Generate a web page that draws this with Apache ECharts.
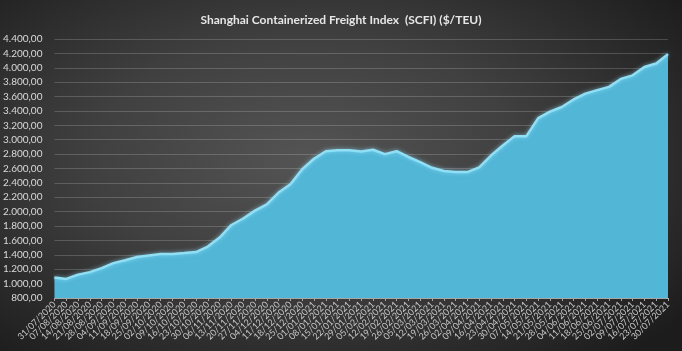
<!DOCTYPE html>
<html>
<head>
<meta charset="utf-8">
<script src="https://cdn.jsdelivr.net/npm/echarts@6/dist/echarts.min.js"></script>
<style>
  html, body { margin: 0; padding: 0; }
  #chart {
    width: 682px;
    height: 351px;
    background: radial-gradient(ellipse 70% 75% at 45% 45%, #545454 0%, #404040 45%, #262626 85%, #1c1c1c 100%);
  }
</style>
</head>
<body>
<div id="chart"></div>
<script>
// SCFI weekly readings, 31/07/2020 .. 30/07/2021
const weeks = [
  "31/07/2020", "07/08/2020", "14/08/2020", "21/08/2020", "28/08/2020",
  "04/09/2020", "11/09/2020", "18/09/2020", "25/09/2020",
  "02/10/2020", "09/10/2020", "16/10/2020", "23/10/2020", "30/10/2020",
  "06/11/2020", "13/11/2020", "20/11/2020", "27/11/2020",
  "04/12/2020", "11/12/2020", "18/12/2020", "25/12/2020",
  "01/01/2021", "08/01/2021", "15/01/2021", "22/01/2021", "29/01/2021",
  "05/02/2021", "12/02/2021", "19/02/2021", "26/02/2021",
  "05/03/2021", "12/03/2021", "19/03/2021", "26/03/2021",
  "02/04/2021", "09/04/2021", "16/04/2021", "23/04/2021", "30/04/2021",
  "07/05/2021", "14/05/2021", "21/05/2021", "28/05/2021",
  "04/06/2021", "11/06/2021", "18/06/2021", "25/06/2021",
  "02/07/2021", "09/07/2021", "16/07/2021", "23/07/2021", "30/07/2021"
]

const scfi = [
  1085, 1065, 1125, 1160, 1215,
  1285, 1325, 1370, 1390,
  1410, 1412, 1424, 1438, 1515,
  1640, 1815, 1905, 2015,
  2100, 2265, 2380, 2590,
  2735, 2840, 2855, 2855, 2835,
  2860, 2800, 2840, 2760,
  2690, 2610, 2565, 2550,
  2550, 2615, 2780, 2920, 3050,
  3050, 3300, 3390, 3455,
  3560, 3640, 3690, 3735,
  3845, 3895, 4010, 4060, 4190
]

const title = "Shanghai Containerized Freight Index  (SCFI) ($/TEU)"

// 4400 -> "4.400,00"
function fmt(v) {
  const [i, d] = v.toFixed(2).split(".")
  return i.replace(/\B(?=(\d{3})+(?!\d))/g, ".") + "," + d
}

const chart = echarts.init(document.getElementById("chart"), null, { renderer: "canvas" })

chart.setOption({
  backgroundColor: "transparent",
  animation: false,
  title: {
    text: title,
    left: "center",
    top: 9,
    textStyle: { color: "#e6e6e6", fontSize: 12, fontWeight: "bold", fontFamily: "Lato" },
  },
  grid: { left: 50, right: 14, top: 39, bottom: 53, containLabel: false },
  xAxis: {
    type: "category",
    data: weeks,
    boundaryGap: false,
    axisLine: { lineStyle: { color: "#a6a6a6", width: 1 } },
    axisTick: { show: true, length: 3, interval: 0, lineStyle: { color: "#a6a6a6" } },
    axisLabel: {
      interval: 0,
      rotate: 45,
      margin: 5,
      color: "#c8c8c8",
      fontSize: 9,
      fontFamily: "Lato",
    },
    splitLine: { show: false },
  },
  yAxis: {
    type: "value",
    min: 800,
    max: 4400,
    interval: 200,
    axisLine: { show: false },
    axisTick: { show: false },
    axisLabel: {
      color: "#d9d9d9",
      fontSize: 10,
      fontFamily: "Lato",
      margin: 12,
      formatter: fmt,
    },
    splitLine: { lineStyle: { color: "rgba(255,255,255,0.18)", width: 1 } },
  },
  series: [
    {
      type: "line",
      data: scfi,
      symbol: "none",
      smooth: false,
      lineStyle: {
        color: "#8fdff5",
        width: 2.5,
        shadowColor: "rgba(150,225,255,0.7)",
        shadowBlur: 4,
      },
      areaStyle: { color: "#52b6d6", opacity: 1 },
      z: 3,
    },
  ],
})
</script>
</body>
</html>
